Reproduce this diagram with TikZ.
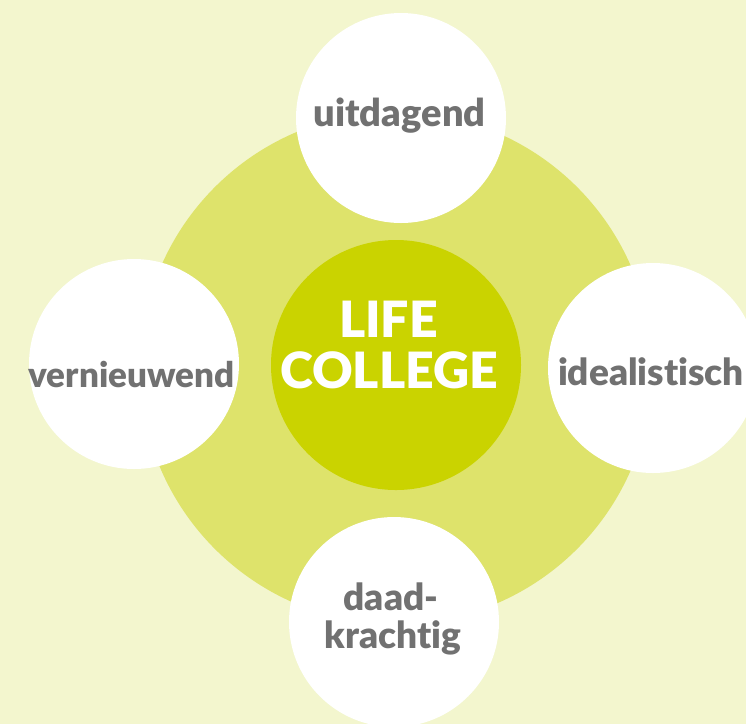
\documentclass[tikz,border=0pt]{standalone}
\usepackage{fontspec}
\setmainfont{Lato}[UprightFont=* Black, BoldFont=* Black, RawFeature={-liga;-dlig;-clig}]
\definecolor{bgc}{HTML}{F3F6CE}
\definecolor{ringc}{HTML}{DEE36B}
\definecolor{corec}{HTML}{CAD300}
\definecolor{txtc}{HTML}{717171}
\begin{document}
\begin{tikzpicture}[x=1pt,y=-1pt,
  bubble/.style={circle,fill=white,minimum size=210pt,inner sep=0pt},
  lbl/.style={anchor=base,text=txtc,font=\fontsize{37}{42}\selectfont,inner sep=0pt},
  corelbl/.style={anchor=base,text=white,font=\fontsize{50}{54}\selectfont,inner sep=0pt}]
\useasboundingbox (0,0) rectangle (746,724);
\clip (0,0) rectangle (746,724);
\fill[bgc] (0,0) rectangle (746,724);
\node[circle,fill=ringc,minimum size=512pt,inner sep=0pt] (ring) at (396,368) {};
\node[circle,fill=corec,minimum size=250pt,inner sep=0pt] (core) at (396,365) {};
\node[bubble] (top) at (401,118) {};
\node[bubble] (left) at (134,364) {};
\node[bubble] (right) at (653,368) {};
\node[bubble] (bottom) at (394,622) {};
\node[lbl,font=\fontsize{38}{42}\selectfont] (t1) at (399.5,126) {uitdagend};
\node[lbl,font=\fontsize{35}{42}\selectfont] (t2) at (131.5,387) {vernieuwend};
\node[lbl] (t3) at (651,385.5) {idealist\kern0pt isch};
\node[lbl] (t4) at (391,610) {daad-};
\node[lbl] (t5) at (393,648.7) {krach\kern0pt t\kern0pt ig};
\node[corelbl] (c1) at (388.5,337) {LIFE};
\node[corelbl] (c2) at (389,388) {COLLEGE};
\end{tikzpicture}
\end{document}
